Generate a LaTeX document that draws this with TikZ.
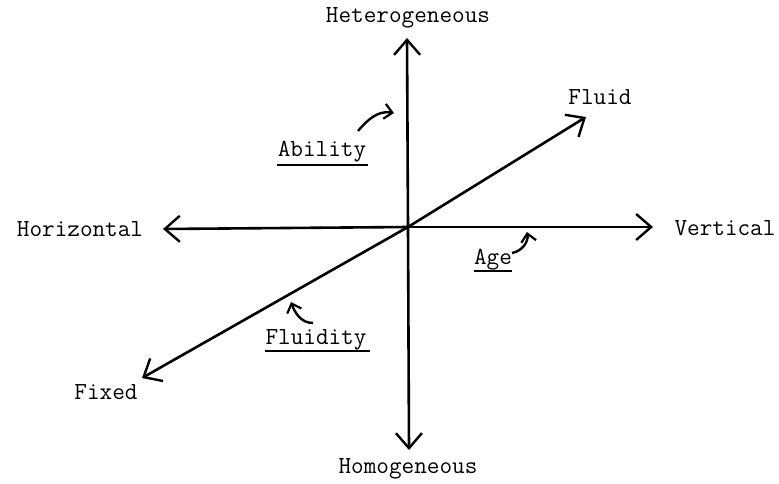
\documentclass[tikz,border=0pt]{standalone}
\usepackage{fontspec}
\usetikzlibrary{arrows.meta, positioning, calc}

\tikzset{
  axislabel/.style={font=\ttfamily\fontsize{24.5}{27}\selectfont, anchor=base, inner sep=0pt},
  axisline/.style={line width=2.6pt, -{Straight Barb[length=15pt, width=26pt, line width=2.4pt]}},
  pointer/.style={line width=2.4pt, -{Straight Barb[length=8pt, width=15pt, line width=2.2pt]}},
  underl/.style={line width=1.8pt}
}

\begin{document}
\begin{tikzpicture}[x=1pt, y=-1pt]
  \useasboundingbox (0,0) rectangle (779,484);

  % axis labels
  \node[axislabel] (het) at (408,23) {Heterogeneous};
  \node[axislabel] (hom) at (408,473) {Homogeneous};
  \node[axislabel] (hor) at (80,236) {Horizontal};
  \node[axislabel] (ver) at (725,235) {Vertical};
  \node[axislabel] (fluid) at (600,105) {Fluid};
  \node[axislabel] (fixed) at (106,399) {Fixed};

  % axis ends
  \coordinate (het tip) at (407,38);
  \coordinate (hom tip) at (409,450);
  \coordinate (hor tip) at (163,229);
  \coordinate (ver tip) at (653,227);
  \coordinate (fluid tip) at (586,117);
  \coordinate (fixed tip) at (142,378);
  \coordinate (centre) at (408,227);

  \draw[axisline] (centre) -- (het tip);
  \draw[axisline] (centre) -- (hom tip);
  \draw[axisline] (centre) -- (hor tip);
  \draw[axisline] (centre) -- (ver tip);
  \draw[axisline] (centre) -- (fluid tip);
  \draw[axisline] (centre) -- (fixed tip);

  % dimension labels
  \node[axislabel] (ability) at (322,157) {Ability};
  \node[axislabel] (fluidity) at (316,344) {Fluidity};
  \node[axislabel] (age) at (493,264) {Age};

  \draw[underl] (277,165) -- (368,165);
  \draw[underl] (265,351) -- (370,351);
  \draw[underl] (474,271) -- (512,271);

  % pointers to the axes
  \coordinate (ability from) at (358,131);
  \coordinate (ability to) at (394,113);
  \coordinate (fluidity from) at (313,323);
  \coordinate (fluidity to) at (291,302);
  \coordinate (age from) at (512,253);
  \coordinate (age to) at (527,232);

  \draw[pointer] (ability from) to[out=50, in=170] (ability to);
  \draw[pointer] (fluidity from) to[out=180, in=-70] (fluidity to);
  \draw[pointer] (age from) to[out=10, in=-80] (age to);
\end{tikzpicture}
\end{document}
